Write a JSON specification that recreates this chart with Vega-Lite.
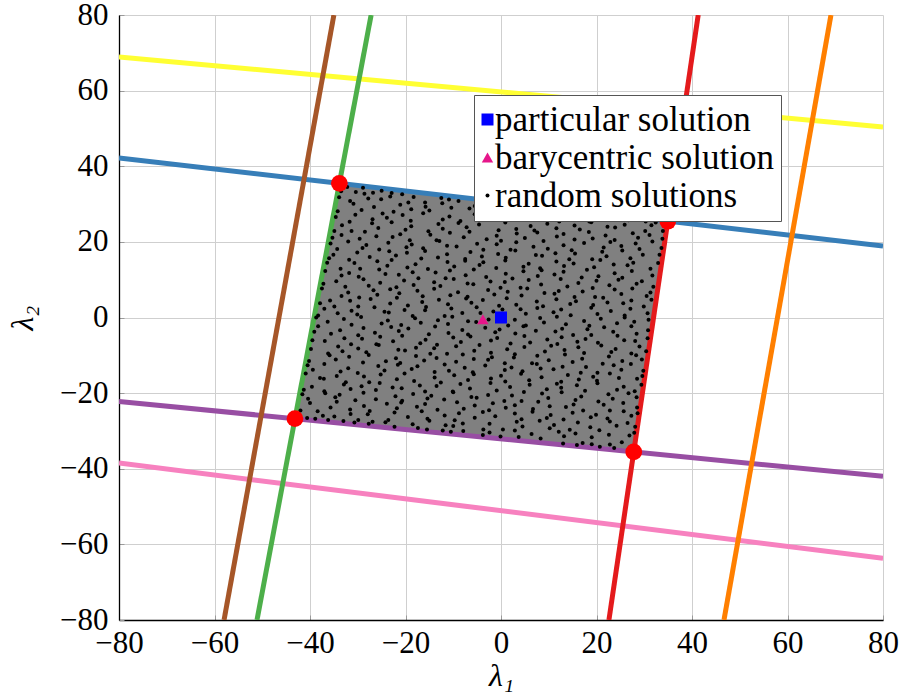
{
"$schema": "https://vega.github.io/schema/vega-lite/v6.json",
"width": 764, "height": 605,
"autosize": {"type": "none"},
"padding": {"left": 119, "top": 15, "right": 21, "bottom": 78},
"config": {
  "font": "Liberation Serif, serif",
  "view": {"stroke": null},
  "axis": {"gridColor": "#cfcfcf", "gridWidth": 1, "ticks": true, "tickSize": -5, "tickColor": "#9a9a9a", "tickWidth": 1, "domainColor": "#000000", "domainWidth": 1.3, "labelFont": "Liberation Serif, serif", "labelFontSize": 31, "labelColor": "#000000", "titleFont": "Liberation Serif, serif", "titleFontSize": 32, "titleFontStyle": "italic", "titleFontWeight": "normal", "titleColor": "#000000"},
  "legend": {"orient": "none", "legendX": 355, "legendY": 80, "fillColor": "#ffffff", "strokeColor": "#555555", "padding": 7, "rowPadding": 2, "labelFont": "Liberation Serif, serif", "labelFontSize": 35, "labelColor": "#000000", "labelOffset": -10, "symbolOffset": -11, "labelLimit": 400}
},
"layer": [
  {
    "data": {"values": [
      {"x": -43.15, "top": -26.76, "bottom": -26.76},
      {"x": -33.85, "top": 35.48, "bottom": -27.91},
      {"x": 27.8, "top": 26.5, "bottom": -35.54},
      {"x": 34.93, "top": 25.46, "bottom": 25.46}
    ]},
    "mark": {"type": "area", "color": "#808080", "opacity": 1},
    "encoding": {
      "x": {"field": "x", "type": "quantitative", "scale": {"domain": [-80, 80], "nice": false, "zero": false}, "axis": {"values": [-80, -60, -40, -20, 0, 20, 40, 60, 80], "title": "λ₁", "labelFont": "Liberation Serif, serif", "titleFont": "Liberation Serif, serif", "labelPadding": 13, "titlePadding": 2, "labelFlush": false}},
      "y": {"field": "top", "type": "quantitative", "scale": {"domain": [-80, 80], "nice": false, "zero": false}, "axis": {"values": [-80, -60, -40, -20, 0, 20, 40, 60, 80], "title": "λ₂", "labelFont": "Liberation Serif, serif", "titleFont": "Liberation Serif, serif", "labelPadding": 16, "titlePadding": 20, "labelFlush": false}},
      "y2": {"field": "bottom"}
    }
  },
  {
    "data": {"values": [
      {"id": "c1", "x": -80, "y": 68.9}, {"id": "c1", "x": 80, "y": 50.4},
      {"id": "c2", "x": -80, "y": 42.2}, {"id": "c2", "x": 80, "y": 18.9},
      {"id": "c3", "x": -80, "y": -22.2}, {"id": "c3", "x": 80, "y": -42.0},
      {"id": "c4", "x": -80, "y": -38.5}, {"id": "c4", "x": 80, "y": -63.7},
      {"id": "c5", "x": -58.0, "y": -80}, {"id": "c5", "x": -35.0, "y": 80},
      {"id": "c6", "x": -51.1, "y": -80}, {"id": "c6", "x": -27.2, "y": 80},
      {"id": "c7", "x": 22.6, "y": -80}, {"id": "c7", "x": 41.3, "y": 80},
      {"id": "c8", "x": 46.7, "y": -80}, {"id": "c8", "x": 69.1, "y": 80}
    ]},
    "mark": {"type": "line", "strokeWidth": 5, "clip": true},
    "encoding": {
      "x": {"field": "x", "type": "quantitative"},
      "y": {"field": "y", "type": "quantitative"},
      "order": {"field": "y", "type": "quantitative"},
      "stroke": {"field": "id", "type": "nominal", "legend": null, "scale": {"domain": ["c1","c2","c3","c4","c5","c6","c7","c8"], "range": ["#ffff33","#377eb8","#984ea3","#f781bf","#a65628","#4daf4a","#e41a1c","#ff7f00"]}}
    }
  },
  {
    "data": {"values": [
{"x":13.0,"y":-33.3,"k":"r"},{"x":15.9,"y":-33.7,"k":"r"},{"x":17.1,"y":-33.2,"k":"r"},{"x":20.7,"y":-34.2,"k":"r"},{"x":22.8,"y":-33.6,"k":"r"},{"x":23.7,"y":-34.5,"k":"r"},{"x":25.3,"y":-33.0,"k":"r"},{"x":26.6,"y":-35.1,"k":"r"},{"x":27.0,"y":-34.3,"k":"r"},{"x":19.0,"y":-33.5,"k":"r"},
{"x":-15.5,"y":-29.6,"k":"r"},{"x":-12.2,"y":-29.9,"k":"r"},{"x":-10.5,"y":-30.2,"k":"r"},{"x":-7.9,"y":-30.0,"k":"r"},{"x":-3.8,"y":-31.1,"k":"r"},{"x":-2.4,"y":-30.4,"k":"r"},{"x":-0.1,"y":-31.5,"k":"r"},{"x":2.9,"y":-29.9,"k":"r"},{"x":3.7,"y":-31.6,"k":"r"},{"x":6.4,"y":-30.8,"k":"r"},{"x":8.3,"y":-32.0,"k":"r"},{"x":12.1,"y":-30.2,"k":"r"},{"x":13.2,"y":-31.4,"k":"r"},{"x":15.6,"y":-30.7,"k":"r"},{"x":19.0,"y":-31.7,"k":"r"},{"x":20.6,"y":-29.8,"k":"r"},{"x":22.6,"y":-31.0,"k":"r"},{"x":26.9,"y":-31.2,"k":"r"},{"x":27.9,"y":-30.5,"k":"r"},
{"x":-33.0,"y":-27.4,"k":"r"},{"x":-30.7,"y":-27.8,"k":"r"},{"x":-27.7,"y":-28.1,"k":"r"},{"x":-26.9,"y":-27.6,"k":"r"},{"x":-24.2,"y":-27.7,"k":"r"},{"x":-22.3,"y":-28.9,"k":"r"},{"x":-18.5,"y":-28.2,"k":"r"},{"x":-17.4,"y":-29.2,"k":"r"},{"x":-15.0,"y":-27.3,"k":"r"},{"x":-11.6,"y":-28.5,"k":"r"},{"x":-10.0,"y":-28.7,"k":"r"},{"x":-8.0,"y":-28.0,"k":"r"},{"x":-3.7,"y":-29.6,"k":"r"},{"x":-2.4,"y":-28.1,"k":"r"},{"x":0.4,"y":-29.6,"k":"r"},{"x":3.3,"y":-27.6,"k":"r"},{"x":4.5,"y":-28.8,"k":"r"},{"x":8.1,"y":-27.3,"k":"r"},{"x":10.2,"y":-29.3,"k":"r"},{"x":11.1,"y":-28.4,"k":"r"},{"x":14.4,"y":-29.7,"k":"r"},{"x":16.1,"y":-27.8,"k":"r"},{"x":18.7,"y":-29.0,"k":"r"},{"x":22.8,"y":-27.5,"k":"r"},{"x":24.2,"y":-28.6,"k":"r"},{"x":26.5,"y":-27.9,"k":"r"},{"x":28.1,"y":-28.9,"k":"r"},
{"x":-42.2,"y":-26.2,"k":"r"},{"x":-38.4,"y":-24.8,"k":"r"},{"x":-37.3,"y":-26.0,"k":"r"},{"x":-34.9,"y":-26.2,"k":"r"},{"x":-31.5,"y":-25.5,"k":"r"},{"x":-29.9,"y":-27.1,"k":"r"},{"x":-27.9,"y":-25.6,"k":"r"},{"x":-23.6,"y":-27.1,"k":"r"},{"x":-22.3,"y":-25.1,"k":"r"},{"x":-19.5,"y":-26.3,"k":"r"},{"x":-16.6,"y":-24.8,"k":"r"},{"x":-15.4,"y":-26.8,"k":"r"},{"x":-11.8,"y":-25.9,"k":"r"},{"x":-9.7,"y":-27.2,"k":"r"},{"x":-8.8,"y":-25.3,"k":"r"},{"x":-5.5,"y":-26.5,"k":"r"},{"x":-3.8,"y":-25.0,"k":"r"},{"x":-1.2,"y":-26.1,"k":"r"},{"x":2.9,"y":-25.4,"k":"r"},{"x":4.3,"y":-26.9,"k":"r"},{"x":6.6,"y":-24.9,"k":"r"},{"x":9.6,"y":-26.6,"k":"r"},{"x":10.4,"y":-25.8,"k":"r"},{"x":13.1,"y":-27.0,"k":"r"},{"x":15.0,"y":-25.2,"k":"r"},{"x":18.8,"y":-26.4,"k":"r"},{"x":19.9,"y":-25.7,"k":"r"},{"x":22.3,"y":-26.7,"k":"r"},{"x":25.7,"y":-24.8,"k":"r"},{"x":27.3,"y":-26.0,"k":"r"},{"x":28.6,"y":-25.3,"k":"r"},{"x":-40.6,"y":-26.6,"k":"r"},{"x":-36.2,"y":-27.1,"k":"r"},{"x":-38.9,"y":-26.8,"k":"r"},
{"x":-42.0,"y":-24.6,"k":"r"},{"x":-40.0,"y":-22.6,"k":"r"},{"x":-35.7,"y":-23.8,"k":"r"},{"x":-34.4,"y":-22.3,"k":"r"},{"x":-31.6,"y":-24.3,"k":"r"},{"x":-28.7,"y":-23.4,"k":"r"},{"x":-27.5,"y":-24.7,"k":"r"},{"x":-23.9,"y":-22.8,"k":"r"},{"x":-21.8,"y":-24.0,"k":"r"},{"x":-20.9,"y":-22.5,"k":"r"},{"x":-17.6,"y":-23.6,"k":"r"},{"x":-15.9,"y":-22.9,"k":"r"},{"x":-13.3,"y":-24.4,"k":"r"},{"x":-9.2,"y":-22.4,"k":"r"},{"x":-7.8,"y":-24.1,"k":"r"},{"x":-5.5,"y":-23.3,"k":"r"},{"x":-2.5,"y":-24.5,"k":"r"},{"x":-1.7,"y":-22.7,"k":"r"},{"x":1.0,"y":-23.9,"k":"r"},{"x":2.9,"y":-23.2,"k":"r"},{"x":6.7,"y":-24.2,"k":"r"},{"x":7.8,"y":-22.3,"k":"r"},{"x":10.2,"y":-23.5,"k":"r"},{"x":13.6,"y":-23.7,"k":"r"},{"x":15.2,"y":-23.0,"k":"r"},{"x":17.2,"y":-24.6,"k":"r"},{"x":21.5,"y":-23.1,"k":"r"},{"x":22.8,"y":-24.6,"k":"r"},{"x":25.6,"y":-22.6,"k":"r"},{"x":28.5,"y":-23.8,"k":"r"},
{"x":-41.6,"y":-20.3,"k":"r"},{"x":-40.4,"y":-21.5,"k":"r"},{"x":-36.8,"y":-20.0,"k":"r"},{"x":-34.7,"y":-21.1,"k":"r"},{"x":-33.8,"y":-20.4,"k":"r"},{"x":-30.5,"y":-21.9,"k":"r"},{"x":-28.8,"y":-19.9,"k":"r"},{"x":-26.2,"y":-21.6,"k":"r"},{"x":-22.1,"y":-20.8,"k":"r"},{"x":-20.7,"y":-22.0,"k":"r"},{"x":-18.4,"y":-20.2,"k":"r"},{"x":-15.4,"y":-21.4,"k":"r"},{"x":-14.6,"y":-20.7,"k":"r"},{"x":-11.9,"y":-21.7,"k":"r"},{"x":-10.0,"y":-19.8,"k":"r"},{"x":-6.2,"y":-21.0,"k":"r"},{"x":-5.1,"y":-21.2,"k":"r"},{"x":-2.7,"y":-20.5,"k":"r"},{"x":0.7,"y":-22.1,"k":"r"},{"x":2.3,"y":-20.6,"k":"r"},{"x":4.3,"y":-22.1,"k":"r"},{"x":8.6,"y":-20.1,"k":"r"},{"x":9.9,"y":-21.3,"k":"r"},{"x":12.7,"y":-19.8,"k":"r"},{"x":15.6,"y":-21.8,"k":"r"},{"x":16.8,"y":-20.9,"k":"r"},{"x":20.4,"y":-22.2,"k":"r"},{"x":22.5,"y":-20.3,"k":"r"},{"x":23.4,"y":-21.5,"k":"r"},{"x":26.7,"y":-20.0,"k":"r"},{"x":28.4,"y":-21.1,"k":"r"},
{"x":-41.3,"y":-19.1,"k":"r"},{"x":-39.6,"y":-18.3,"k":"r"},{"x":-37.0,"y":-19.5,"k":"r"},{"x":-32.9,"y":-17.7,"k":"r"},{"x":-31.5,"y":-18.9,"k":"r"},{"x":-29.2,"y":-18.2,"k":"r"},{"x":-26.2,"y":-19.2,"k":"r"},{"x":-25.4,"y":-17.3,"k":"r"},{"x":-22.7,"y":-18.5,"k":"r"},{"x":-20.8,"y":-18.7,"k":"r"},{"x":-17.0,"y":-18.0,"k":"r"},{"x":-15.9,"y":-19.6,"k":"r"},{"x":-13.5,"y":-18.1,"k":"r"},{"x":-10.1,"y":-19.6,"k":"r"},{"x":-8.5,"y":-17.6,"k":"r"},{"x":-6.5,"y":-18.8,"k":"r"},{"x":-2.2,"y":-17.3,"k":"r"},{"x":-0.9,"y":-19.3,"k":"r"},{"x":1.9,"y":-18.4,"k":"r"},{"x":4.8,"y":-19.7,"k":"r"},{"x":6.0,"y":-17.8,"k":"r"},{"x":9.6,"y":-19.0,"k":"r"},{"x":11.7,"y":-17.5,"k":"r"},{"x":12.6,"y":-18.6,"k":"r"},{"x":15.9,"y":-17.9,"k":"r"},{"x":17.6,"y":-19.4,"k":"r"},{"x":20.2,"y":-17.4,"k":"r"},{"x":24.3,"y":-19.1,"k":"r"},{"x":25.7,"y":-18.3,"k":"r"},{"x":28.0,"y":-19.5,"k":"r"},{"x":29.4,"y":-17.8,"k":"r"},
{"x":-40.9,"y":-14.8,"k":"r"},{"x":-37.9,"y":-16.0,"k":"r"},{"x":-37.1,"y":-16.2,"k":"r"},{"x":-34.4,"y":-15.5,"k":"r"},{"x":-32.5,"y":-17.1,"k":"r"},{"x":-28.7,"y":-15.6,"k":"r"},{"x":-27.6,"y":-17.1,"k":"r"},{"x":-25.2,"y":-15.1,"k":"r"},{"x":-21.8,"y":-16.3,"k":"r"},{"x":-20.2,"y":-14.8,"k":"r"},{"x":-18.2,"y":-16.8,"k":"r"},{"x":-13.9,"y":-15.9,"k":"r"},{"x":-12.6,"y":-17.2,"k":"r"},{"x":-9.8,"y":-15.3,"k":"r"},{"x":-6.9,"y":-16.5,"k":"r"},{"x":-5.7,"y":-15.0,"k":"r"},{"x":-2.1,"y":-16.1,"k":"r"},{"x":0.0,"y":-15.4,"k":"r"},{"x":0.9,"y":-16.9,"k":"r"},{"x":4.2,"y":-14.9,"k":"r"},{"x":5.9,"y":-16.6,"k":"r"},{"x":8.5,"y":-15.8,"k":"r"},{"x":12.6,"y":-17.0,"k":"r"},{"x":14.0,"y":-15.2,"k":"r"},{"x":16.3,"y":-16.4,"k":"r"},{"x":19.3,"y":-15.7,"k":"r"},{"x":20.1,"y":-16.7,"k":"r"},{"x":22.8,"y":-14.8,"k":"r"},{"x":24.7,"y":-16.0,"k":"r"},{"x":28.5,"y":-16.2,"k":"r"},{"x":29.6,"y":-15.5,"k":"r"},
{"x":-40.5,"y":-12.6,"k":"r"},{"x":-39.4,"y":-13.8,"k":"r"},{"x":-37.0,"y":-12.3,"k":"r"},{"x":-33.6,"y":-14.3,"k":"r"},{"x":-32.0,"y":-13.4,"k":"r"},{"x":-30.0,"y":-14.7,"k":"r"},{"x":-25.7,"y":-12.8,"k":"r"},{"x":-24.4,"y":-14.0,"k":"r"},{"x":-21.6,"y":-12.5,"k":"r"},{"x":-18.7,"y":-13.6,"k":"r"},{"x":-17.5,"y":-12.9,"k":"r"},{"x":-13.9,"y":-14.4,"k":"r"},{"x":-11.8,"y":-12.4,"k":"r"},{"x":-10.9,"y":-14.1,"k":"r"},{"x":-7.6,"y":-13.3,"k":"r"},{"x":-5.9,"y":-14.5,"k":"r"},{"x":-3.3,"y":-12.7,"k":"r"},{"x":0.8,"y":-13.9,"k":"r"},{"x":2.2,"y":-13.2,"k":"r"},{"x":4.5,"y":-14.2,"k":"r"},{"x":7.5,"y":-12.3,"k":"r"},{"x":8.3,"y":-13.5,"k":"r"},{"x":11.0,"y":-13.7,"k":"r"},{"x":12.9,"y":-13.0,"k":"r"},{"x":16.7,"y":-14.6,"k":"r"},{"x":17.8,"y":-13.1,"k":"r"},{"x":20.2,"y":-14.6,"k":"r"},{"x":23.6,"y":-12.6,"k":"r"},{"x":25.2,"y":-13.8,"k":"r"},{"x":27.2,"y":-12.3,"k":"r"},{"x":29.8,"y":-14.1,"k":"r"},
{"x":-40.2,"y":-11.5,"k":"r"},{"x":-35.9,"y":-10.0,"k":"r"},{"x":-34.6,"y":-11.1,"k":"r"},{"x":-31.8,"y":-10.4,"k":"r"},{"x":-28.9,"y":-11.9,"k":"r"},{"x":-27.7,"y":-9.9,"k":"r"},{"x":-24.1,"y":-11.6,"k":"r"},{"x":-22.0,"y":-10.8,"k":"r"},{"x":-21.1,"y":-12.0,"k":"r"},{"x":-17.8,"y":-10.2,"k":"r"},{"x":-16.1,"y":-11.4,"k":"r"},{"x":-13.5,"y":-10.7,"k":"r"},{"x":-9.4,"y":-11.7,"k":"r"},{"x":-8.0,"y":-9.8,"k":"r"},{"x":-5.7,"y":-11.0,"k":"r"},{"x":-2.7,"y":-11.2,"k":"r"},{"x":-1.9,"y":-10.5,"k":"r"},{"x":0.8,"y":-12.1,"k":"r"},{"x":2.7,"y":-10.6,"k":"r"},{"x":6.5,"y":-12.1,"k":"r"},{"x":7.6,"y":-10.1,"k":"r"},{"x":10.0,"y":-11.3,"k":"r"},{"x":13.4,"y":-9.8,"k":"r"},{"x":15.0,"y":-11.8,"k":"r"},{"x":17.0,"y":-10.9,"k":"r"},{"x":21.3,"y":-12.2,"k":"r"},{"x":22.6,"y":-10.3,"k":"r"},{"x":25.4,"y":-11.5,"k":"r"},{"x":28.3,"y":-10.0,"k":"r"},{"x":29.5,"y":-11.1,"k":"r"},
{"x":-39.8,"y":-8.3,"k":"r"},{"x":-36.2,"y":-9.5,"k":"r"},{"x":-34.1,"y":-7.7,"k":"r"},{"x":-33.2,"y":-8.9,"k":"r"},{"x":-29.9,"y":-8.2,"k":"r"},{"x":-28.2,"y":-9.2,"k":"r"},{"x":-25.6,"y":-7.3,"k":"r"},{"x":-21.5,"y":-8.5,"k":"r"},{"x":-20.1,"y":-8.7,"k":"r"},{"x":-17.8,"y":-8.0,"k":"r"},{"x":-14.8,"y":-9.6,"k":"r"},{"x":-14.0,"y":-8.1,"k":"r"},{"x":-11.3,"y":-9.6,"k":"r"},{"x":-9.4,"y":-7.6,"k":"r"},{"x":-5.6,"y":-8.8,"k":"r"},{"x":-4.5,"y":-7.3,"k":"r"},{"x":-2.1,"y":-9.3,"k":"r"},{"x":1.3,"y":-8.4,"k":"r"},{"x":2.9,"y":-9.7,"k":"r"},{"x":4.9,"y":-7.8,"k":"r"},{"x":9.2,"y":-9.0,"k":"r"},{"x":10.5,"y":-7.5,"k":"r"},{"x":13.3,"y":-8.6,"k":"r"},{"x":16.2,"y":-7.9,"k":"r"},{"x":17.4,"y":-9.4,"k":"r"},{"x":21.0,"y":-7.4,"k":"r"},{"x":23.1,"y":-9.1,"k":"r"},{"x":24.0,"y":-8.3,"k":"r"},{"x":27.3,"y":-9.5,"k":"r"},{"x":29.0,"y":-7.7,"k":"r"},{"x":30.4,"y":-8.9,"k":"r"},
{"x":-39.5,"y":-6.0,"k":"r"},{"x":-36.9,"y":-6.2,"k":"r"},{"x":-32.8,"y":-5.5,"k":"r"},{"x":-31.4,"y":-7.1,"k":"r"},{"x":-29.1,"y":-5.6,"k":"r"},{"x":-26.1,"y":-7.1,"k":"r"},{"x":-25.3,"y":-5.1,"k":"r"},{"x":-22.6,"y":-6.3,"k":"r"},{"x":-20.7,"y":-4.8,"k":"r"},{"x":-16.9,"y":-6.8,"k":"r"},{"x":-15.8,"y":-5.9,"k":"r"},{"x":-13.4,"y":-7.2,"k":"r"},{"x":-10.0,"y":-5.3,"k":"r"},{"x":-8.4,"y":-6.5,"k":"r"},{"x":-6.4,"y":-5.0,"k":"r"},{"x":-2.1,"y":-6.1,"k":"r"},{"x":-0.8,"y":-5.4,"k":"r"},{"x":2.0,"y":-6.9,"k":"r"},{"x":4.9,"y":-4.9,"k":"r"},{"x":6.1,"y":-6.6,"k":"r"},{"x":9.7,"y":-5.8,"k":"r"},{"x":11.8,"y":-7.0,"k":"r"},{"x":12.7,"y":-5.2,"k":"r"},{"x":16.0,"y":-6.4,"k":"r"},{"x":17.7,"y":-5.7,"k":"r"},{"x":20.3,"y":-6.7,"k":"r"},{"x":24.4,"y":-4.8,"k":"r"},{"x":25.8,"y":-6.0,"k":"r"},{"x":28.1,"y":-6.2,"k":"r"},{"x":30.7,"y":-5.5,"k":"r"},
{"x":-39.1,"y":-3.8,"k":"r"},{"x":-38.3,"y":-2.3,"k":"r"},{"x":-35.6,"y":-4.3,"k":"r"},{"x":-33.7,"y":-3.4,"k":"r"},{"x":-29.9,"y":-4.7,"k":"r"},{"x":-28.8,"y":-2.8,"k":"r"},{"x":-26.4,"y":-4.0,"k":"r"},{"x":-23.0,"y":-2.5,"k":"r"},{"x":-21.4,"y":-3.6,"k":"r"},{"x":-19.4,"y":-2.9,"k":"r"},{"x":-15.1,"y":-4.4,"k":"r"},{"x":-13.8,"y":-2.4,"k":"r"},{"x":-11.0,"y":-4.1,"k":"r"},{"x":-8.1,"y":-3.3,"k":"r"},{"x":-6.9,"y":-4.5,"k":"r"},{"x":-3.3,"y":-2.7,"k":"r"},{"x":-1.2,"y":-3.9,"k":"r"},{"x":-0.3,"y":-3.2,"k":"r"},{"x":3.0,"y":-4.2,"k":"r"},{"x":4.7,"y":-2.3,"k":"r"},{"x":7.3,"y":-3.5,"k":"r"},{"x":11.4,"y":-3.7,"k":"r"},{"x":12.8,"y":-3.0,"k":"r"},{"x":15.1,"y":-4.6,"k":"r"},{"x":18.1,"y":-3.1,"k":"r"},{"x":18.9,"y":-4.6,"k":"r"},{"x":21.6,"y":-2.6,"k":"r"},{"x":23.5,"y":-3.8,"k":"r"},{"x":27.3,"y":-2.3,"k":"r"},{"x":28.4,"y":-4.3,"k":"r"},{"x":30.8,"y":-3.4,"k":"r"},
{"x":-38.7,"y":0.0,"k":"r"},{"x":-36.3,"y":-1.1,"k":"r"},{"x":-32.9,"y":-0.4,"k":"r"},{"x":-31.3,"y":-1.9,"k":"r"},{"x":-29.3,"y":0.1,"k":"r"},{"x":-25.0,"y":-1.6,"k":"r"},{"x":-23.7,"y":-0.8,"k":"r"},{"x":-20.9,"y":-2.0,"k":"r"},{"x":-18.0,"y":-0.2,"k":"r"},{"x":-16.8,"y":-1.4,"k":"r"},{"x":-13.2,"y":-0.7,"k":"r"},{"x":-11.1,"y":-1.7,"k":"r"},{"x":-10.2,"y":0.2,"k":"r"},{"x":-6.9,"y":-1.0,"k":"r"},{"x":-5.2,"y":-1.2,"k":"r"},{"x":-2.6,"y":-0.5,"k":"r"},{"x":1.5,"y":-2.1,"k":"r"},{"x":2.9,"y":-0.6,"k":"r"},{"x":5.2,"y":-2.1,"k":"r"},{"x":8.2,"y":-0.1,"k":"r"},{"x":9.0,"y":-1.3,"k":"r"},{"x":11.7,"y":0.2,"k":"r"},{"x":13.6,"y":-1.8,"k":"r"},{"x":17.4,"y":-0.9,"k":"r"},{"x":18.5,"y":-2.2,"k":"r"},{"x":20.9,"y":-0.3,"k":"r"},{"x":24.3,"y":-1.5,"k":"r"},{"x":25.9,"y":0.0,"k":"r"},{"x":27.9,"y":-1.1,"k":"r"},{"x":30.9,"y":-0.6,"k":"r"},
{"x":-38.3,"y":0.5,"k":"r"},{"x":-37.0,"y":2.3,"k":"r"},{"x":-34.2,"y":1.1,"k":"r"},{"x":-31.3,"y":1.8,"k":"r"},{"x":-30.1,"y":0.8,"k":"r"},{"x":-26.5,"y":2.7,"k":"r"},{"x":-24.4,"y":1.5,"k":"r"},{"x":-23.5,"y":1.3,"k":"r"},{"x":-20.2,"y":2.0,"k":"r"},{"x":-18.5,"y":0.4,"k":"r"},{"x":-15.9,"y":1.9,"k":"r"},{"x":-11.8,"y":0.4,"k":"r"},{"x":-10.4,"y":2.4,"k":"r"},{"x":-8.1,"y":1.2,"k":"r"},{"x":-5.1,"y":2.7,"k":"r"},{"x":-4.3,"y":1.2,"k":"r"},{"x":-1.6,"y":1.6,"k":"r"},{"x":0.3,"y":2.1,"k":"r"},{"x":4.1,"y":2.2,"k":"r"},{"x":5.2,"y":1.0,"k":"r"},{"x":7.6,"y":2.5,"k":"r"},{"x":11.0,"y":1.4,"k":"r"},{"x":12.6,"y":2.1,"k":"r"},{"x":14.6,"y":0.6,"k":"r"},{"x":18.9,"y":2.6,"k":"r"},{"x":20.2,"y":0.9,"k":"r"},{"x":23.0,"y":1.7,"k":"r"},{"x":25.9,"y":0.5,"k":"r"},{"x":27.1,"y":2.3,"k":"r"},{"x":30.7,"y":1.1,"k":"r"},
{"x":-37.9,"y":3.8,"k":"r"},{"x":-35.8,"y":4.5,"k":"r"},{"x":-34.9,"y":2.9,"k":"r"},{"x":-31.6,"y":4.4,"k":"r"},{"x":-29.9,"y":2.9,"k":"r"},{"x":-27.3,"y":4.9,"k":"r"},{"x":-23.2,"y":3.7,"k":"r"},{"x":-21.8,"y":5.2,"k":"r"},{"x":-19.5,"y":3.2,"k":"r"},{"x":-16.5,"y":4.1,"k":"r"},{"x":-15.7,"y":2.8,"k":"r"},{"x":-13.0,"y":4.7,"k":"r"},{"x":-11.1,"y":3.5,"k":"r"},{"x":-7.3,"y":5.0,"k":"r"},{"x":-6.2,"y":3.9,"k":"r"},{"x":-3.8,"y":4.6,"k":"r"},{"x":-0.4,"y":3.1,"k":"r"},{"x":1.2,"y":5.1,"k":"r"},{"x":3.2,"y":3.4,"k":"r"},{"x":7.5,"y":4.2,"k":"r"},{"x":8.8,"y":3.0,"k":"r"},{"x":11.6,"y":4.8,"k":"r"},{"x":14.5,"y":3.6,"k":"r"},{"x":15.7,"y":4.3,"k":"r"},{"x":19.3,"y":3.3,"k":"r"},{"x":21.4,"y":5.2,"k":"r"},{"x":22.3,"y":4.0,"k":"r"},{"x":25.6,"y":3.8,"k":"r"},{"x":27.3,"y":4.5,"k":"r"},{"x":29.9,"y":2.9,"k":"r"},{"x":31.5,"y":4.7,"k":"r"},
{"x":-37.5,"y":7.7,"k":"r"},{"x":-33.4,"y":5.7,"k":"r"},{"x":-32.0,"y":6.6,"k":"r"},{"x":-29.7,"y":5.3,"k":"r"},{"x":-26.7,"y":7.2,"k":"r"},{"x":-25.9,"y":6.0,"k":"r"},{"x":-23.2,"y":7.5,"k":"r"},{"x":-21.3,"y":6.4,"k":"r"},{"x":-17.5,"y":7.1,"k":"r"},{"x":-16.4,"y":5.6,"k":"r"},{"x":-14.0,"y":7.6,"k":"r"},{"x":-10.6,"y":5.9,"k":"r"},{"x":-9.0,"y":6.7,"k":"r"},{"x":-7.0,"y":5.5,"k":"r"},{"x":-2.7,"y":7.3,"k":"r"},{"x":-1.4,"y":6.1,"k":"r"},{"x":1.4,"y":6.8,"k":"r"},{"x":4.3,"y":5.8,"k":"r"},{"x":5.5,"y":7.7,"k":"r"},{"x":9.1,"y":6.5,"k":"r"},{"x":11.2,"y":6.3,"k":"r"},{"x":12.1,"y":7.0,"k":"r"},{"x":15.4,"y":5.4,"k":"r"},{"x":17.1,"y":6.9,"k":"r"},{"x":19.7,"y":5.4,"k":"r"},{"x":23.8,"y":7.4,"k":"r"},{"x":25.2,"y":6.2,"k":"r"},{"x":27.5,"y":7.7,"k":"r"},{"x":30.5,"y":5.7,"k":"r"},{"x":31.3,"y":6.6,"k":"r"},
{"x":-37.2,"y":8.9,"k":"r"},{"x":-34.5,"y":9.6,"k":"r"},{"x":-32.6,"y":8.1,"k":"r"},{"x":-28.8,"y":10.1,"k":"r"},{"x":-27.7,"y":8.4,"k":"r"},{"x":-25.3,"y":9.2,"k":"r"},{"x":-21.9,"y":8.0,"k":"r"},{"x":-20.3,"y":9.8,"k":"r"},{"x":-18.3,"y":8.6,"k":"r"},{"x":-14.0,"y":9.3,"k":"r"},{"x":-12.7,"y":8.3,"k":"r"},{"x":-9.9,"y":10.2,"k":"r"},{"x":-7.0,"y":9.0,"k":"r"},{"x":-5.8,"y":8.8,"k":"r"},{"x":-2.2,"y":9.5,"k":"r"},{"x":-0.1,"y":7.9,"k":"r"},{"x":0.8,"y":9.4,"k":"r"},{"x":4.1,"y":7.9,"k":"r"},{"x":5.8,"y":9.9,"k":"r"},{"x":8.4,"y":8.7,"k":"r"},{"x":12.5,"y":10.2,"k":"r"},{"x":13.9,"y":8.2,"k":"r"},{"x":16.2,"y":9.1,"k":"r"},{"x":19.2,"y":7.8,"k":"r"},{"x":20.0,"y":9.7,"k":"r"},{"x":22.7,"y":8.5,"k":"r"},{"x":24.6,"y":10.0,"k":"r"},{"x":28.4,"y":8.9,"k":"r"},{"x":29.5,"y":9.6,"k":"r"},{"x":31.9,"y":8.1,"k":"r"},
{"x":-36.8,"y":12.3,"k":"r"},{"x":-33.4,"y":11.1,"k":"r"},{"x":-31.8,"y":11.8,"k":"r"},{"x":-29.8,"y":10.8,"k":"r"},{"x":-25.5,"y":12.7,"k":"r"},{"x":-24.2,"y":11.5,"k":"r"},{"x":-21.4,"y":11.3,"k":"r"},{"x":-18.5,"y":12.0,"k":"r"},{"x":-17.3,"y":10.4,"k":"r"},{"x":-13.7,"y":11.9,"k":"r"},{"x":-11.6,"y":10.4,"k":"r"},{"x":-10.7,"y":12.4,"k":"r"},{"x":-7.4,"y":11.2,"k":"r"},{"x":-5.7,"y":12.7,"k":"r"},{"x":-3.1,"y":10.7,"k":"r"},{"x":1.0,"y":11.6,"k":"r"},{"x":2.4,"y":10.3,"k":"r"},{"x":4.7,"y":12.2,"k":"r"},{"x":7.7,"y":11.0,"k":"r"},{"x":8.5,"y":12.5,"k":"r"},{"x":11.2,"y":11.4,"k":"r"},{"x":13.1,"y":12.1,"k":"r"},{"x":16.9,"y":10.6,"k":"r"},{"x":18.0,"y":12.6,"k":"r"},{"x":20.4,"y":10.9,"k":"r"},{"x":23.8,"y":11.7,"k":"r"},{"x":25.4,"y":10.5,"k":"r"},{"x":27.4,"y":12.3,"k":"r"},{"x":31.7,"y":11.1,"k":"r"},
{"x":-36.4,"y":14.5,"k":"r"},{"x":-33.6,"y":12.9,"k":"r"},{"x":-30.7,"y":14.4,"k":"r"},{"x":-29.5,"y":12.9,"k":"r"},{"x":-25.9,"y":14.9,"k":"r"},{"x":-23.8,"y":13.7,"k":"r"},{"x":-22.9,"y":15.2,"k":"r"},{"x":-19.6,"y":13.2,"k":"r"},{"x":-17.9,"y":14.1,"k":"r"},{"x":-15.3,"y":12.8,"k":"r"},{"x":-11.2,"y":14.7,"k":"r"},{"x":-9.8,"y":13.5,"k":"r"},{"x":-7.5,"y":15.0,"k":"r"},{"x":-4.5,"y":13.9,"k":"r"},{"x":-3.7,"y":14.6,"k":"r"},{"x":-1.0,"y":13.1,"k":"r"},{"x":0.9,"y":15.1,"k":"r"},{"x":4.7,"y":13.4,"k":"r"},{"x":5.8,"y":14.2,"k":"r"},{"x":8.2,"y":13.0,"k":"r"},{"x":11.6,"y":14.8,"k":"r"},{"x":13.2,"y":13.6,"k":"r"},{"x":15.2,"y":14.3,"k":"r"},{"x":19.5,"y":13.3,"k":"r"},{"x":20.8,"y":15.2,"k":"r"},{"x":23.6,"y":14.0,"k":"r"},{"x":26.5,"y":13.8,"k":"r"},{"x":27.7,"y":14.5,"k":"r"},{"x":31.3,"y":12.9,"k":"r"},{"x":32.9,"y":14.4,"k":"r"},
{"x":-36.0,"y":15.7,"k":"r"},{"x":-35.1,"y":16.6,"k":"r"},{"x":-31.8,"y":15.3,"k":"r"},{"x":-30.1,"y":17.2,"k":"r"},{"x":-27.5,"y":16.0,"k":"r"},{"x":-23.4,"y":17.5,"k":"r"},{"x":-22.0,"y":16.4,"k":"r"},{"x":-19.7,"y":17.1,"k":"r"},{"x":-16.7,"y":15.6,"k":"r"},{"x":-15.9,"y":17.6,"k":"r"},{"x":-13.2,"y":15.9,"k":"r"},{"x":-11.3,"y":16.7,"k":"r"},{"x":-7.5,"y":15.5,"k":"r"},{"x":-6.4,"y":17.3,"k":"r"},{"x":-4.0,"y":16.1,"k":"r"},{"x":-0.6,"y":16.8,"k":"r"},{"x":1.0,"y":15.8,"k":"r"},{"x":3.0,"y":17.7,"k":"r"},{"x":7.3,"y":16.5,"k":"r"},{"x":8.6,"y":16.3,"k":"r"},{"x":11.4,"y":17.0,"k":"r"},{"x":14.3,"y":15.4,"k":"r"},{"x":15.5,"y":16.9,"k":"r"},{"x":19.1,"y":15.4,"k":"r"},{"x":21.2,"y":17.4,"k":"r"},{"x":22.1,"y":16.2,"k":"r"},{"x":25.4,"y":17.7,"k":"r"},{"x":27.1,"y":15.7,"k":"r"},{"x":29.7,"y":16.6,"k":"r"},{"x":33.2,"y":16.6,"k":"r"},
{"x":-35.7,"y":19.6,"k":"r"},{"x":-34.3,"y":18.1,"k":"r"},{"x":-32.0,"y":20.1,"k":"r"},{"x":-29.0,"y":18.4,"k":"r"},{"x":-28.2,"y":19.2,"k":"r"},{"x":-25.5,"y":18.0,"k":"r"},{"x":-23.6,"y":19.8,"k":"r"},{"x":-19.8,"y":18.6,"k":"r"},{"x":-18.7,"y":19.3,"k":"r"},{"x":-16.3,"y":18.3,"k":"r"},{"x":-12.9,"y":20.2,"k":"r"},{"x":-11.3,"y":19.0,"k":"r"},{"x":-9.3,"y":18.8,"k":"r"},{"x":-5.0,"y":19.5,"k":"r"},{"x":-3.7,"y":17.9,"k":"r"},{"x":-0.9,"y":19.4,"k":"r"},{"x":2.0,"y":17.9,"k":"r"},{"x":3.2,"y":19.9,"k":"r"},{"x":6.8,"y":18.7,"k":"r"},{"x":8.9,"y":20.2,"k":"r"},{"x":9.8,"y":18.2,"k":"r"},{"x":13.1,"y":19.1,"k":"r"},{"x":14.8,"y":17.8,"k":"r"},{"x":17.4,"y":19.7,"k":"r"},{"x":21.5,"y":18.5,"k":"r"},{"x":22.9,"y":20.0,"k":"r"},{"x":25.2,"y":18.9,"k":"r"},{"x":28.2,"y":19.6,"k":"r"},{"x":29.0,"y":18.1,"k":"r"},{"x":31.7,"y":20.1,"k":"r"},{"x":33.6,"y":18.4,"k":"r"},
{"x":-35.3,"y":21.1,"k":"r"},{"x":-33.4,"y":21.8,"k":"r"},{"x":-29.6,"y":20.8,"k":"r"},{"x":-28.5,"y":22.7,"k":"r"},{"x":-26.1,"y":21.5,"k":"r"},{"x":-22.7,"y":21.3,"k":"r"},{"x":-21.1,"y":22.0,"k":"r"},{"x":-19.1,"y":20.4,"k":"r"},{"x":-14.8,"y":21.9,"k":"r"},{"x":-13.5,"y":20.4,"k":"r"},{"x":-10.7,"y":22.4,"k":"r"},{"x":-7.8,"y":21.2,"k":"r"},{"x":-6.6,"y":22.7,"k":"r"},{"x":-3.0,"y":20.7,"k":"r"},{"x":-0.9,"y":21.6,"k":"r"},{"x":0.0,"y":20.3,"k":"r"},{"x":3.3,"y":22.2,"k":"r"},{"x":5.0,"y":21.0,"k":"r"},{"x":7.6,"y":22.5,"k":"r"},{"x":11.7,"y":21.4,"k":"r"},{"x":13.1,"y":22.1,"k":"r"},{"x":15.4,"y":20.6,"k":"r"},{"x":18.4,"y":22.6,"k":"r"},{"x":19.2,"y":20.9,"k":"r"},{"x":21.9,"y":21.7,"k":"r"},{"x":23.8,"y":20.5,"k":"r"},{"x":27.6,"y":22.3,"k":"r"},{"x":28.7,"y":21.1,"k":"r"},{"x":31.1,"y":21.8,"k":"r"},{"x":33.8,"y":20.8,"k":"r"},
{"x":-34.9,"y":22.9,"k":"r"},{"x":-33.3,"y":24.4,"k":"r"},{"x":-31.3,"y":22.9,"k":"r"},{"x":-27.0,"y":24.9,"k":"r"},{"x":-25.7,"y":23.7,"k":"r"},{"x":-22.9,"y":25.2,"k":"r"},{"x":-20.0,"y":23.2,"k":"r"},{"x":-18.8,"y":24.1,"k":"r"},{"x":-15.2,"y":22.8,"k":"r"},{"x":-13.1,"y":24.7,"k":"r"},{"x":-12.2,"y":23.5,"k":"r"},{"x":-8.9,"y":25.0,"k":"r"},{"x":-7.2,"y":23.9,"k":"r"},{"x":-4.6,"y":24.6,"k":"r"},{"x":-0.5,"y":23.1,"k":"r"},{"x":0.9,"y":25.1,"k":"r"},{"x":3.2,"y":23.4,"k":"r"},{"x":6.2,"y":24.2,"k":"r"},{"x":7.0,"y":23.0,"k":"r"},{"x":9.7,"y":24.8,"k":"r"},{"x":11.6,"y":23.6,"k":"r"},{"x":15.4,"y":24.3,"k":"r"},{"x":16.5,"y":23.3,"k":"r"},{"x":18.9,"y":25.2,"k":"r"},{"x":22.3,"y":24.0,"k":"r"},{"x":23.9,"y":23.8,"k":"r"},{"x":25.9,"y":24.5,"k":"r"},{"x":30.2,"y":22.9,"k":"r"},{"x":31.5,"y":24.4,"k":"r"},{"x":33.9,"y":22.9,"k":"r"},
{"x":-34.6,"y":26.6,"k":"r"},{"x":-31.7,"y":25.3,"k":"r"},{"x":-30.5,"y":27.2,"k":"r"},{"x":-26.9,"y":26.0,"k":"r"},{"x":-24.8,"y":27.5,"k":"r"},{"x":-23.9,"y":26.4,"k":"r"},{"x":-20.6,"y":27.1,"k":"r"},{"x":-18.9,"y":25.6,"k":"r"},{"x":-16.3,"y":27.6,"k":"r"},{"x":-12.2,"y":25.9,"k":"r"},{"x":-10.8,"y":26.7,"k":"r"},{"x":-8.5,"y":25.5,"k":"r"},{"x":-5.5,"y":27.3,"k":"r"},{"x":-4.7,"y":26.1,"k":"r"},{"x":-2.0,"y":26.8,"k":"r"},{"x":-0.1,"y":25.8,"k":"r"},{"x":3.7,"y":27.7,"k":"r"},{"x":4.8,"y":26.5,"k":"r"},{"x":7.2,"y":26.3,"k":"r"},{"x":10.6,"y":27.0,"k":"r"},{"x":12.2,"y":25.4,"k":"r"},{"x":14.2,"y":26.9,"k":"r"},{"x":18.5,"y":25.4,"k":"r"},{"x":19.8,"y":26.9,"k":"r"},{"x":22.6,"y":26.2,"k":"r"},{"x":25.5,"y":26.2,"k":"r"},{"x":26.7,"y":25.7,"k":"r"},{"x":30.3,"y":25.4,"k":"r"},{"x":32.4,"y":25.1,"k":"r"},
{"x":-34.2,"y":28.1,"k":"r"},{"x":-30.9,"y":30.1,"k":"r"},{"x":-29.2,"y":28.4,"k":"r"},{"x":-26.6,"y":29.2,"k":"r"},{"x":-22.5,"y":28.0,"k":"r"},{"x":-21.1,"y":29.8,"k":"r"},{"x":-18.8,"y":28.6,"k":"r"},{"x":-15.8,"y":29.3,"k":"r"},{"x":-15.0,"y":28.3,"k":"r"},{"x":-12.3,"y":30.2,"k":"r"},{"x":-10.4,"y":29.0,"k":"r"},{"x":-6.6,"y":28.8,"k":"r"},{"x":-5.5,"y":29.5,"k":"r"},{"x":-3.1,"y":27.9,"k":"r"},{"x":0.3,"y":29.4,"k":"r"},{"x":1.9,"y":27.9,"k":"r"},{"x":3.9,"y":29.0,"k":"r"},{"x":8.2,"y":28.7,"k":"r"},{"x":9.5,"y":28.4,"k":"r"},{"x":12.3,"y":28.2,"k":"r"},{"x":15.2,"y":27.6,"k":"r"},{"x":16.4,"y":27.3,"k":"r"},{"x":20.0,"y":27.0,"k":"r"},
{"x":-33.9,"y":31.8,"k":"r"},{"x":-31.6,"y":30.8,"k":"r"},{"x":-28.6,"y":32.7,"k":"r"},{"x":-27.8,"y":31.5,"k":"r"},{"x":-25.1,"y":31.3,"k":"r"},{"x":-23.2,"y":32.0,"k":"r"},{"x":-19.4,"y":30.4,"k":"r"},{"x":-18.3,"y":31.9,"k":"r"},{"x":-15.9,"y":30.4,"k":"r"},{"x":-12.5,"y":31.6,"k":"r"},{"x":-10.9,"y":31.2,"k":"r"},{"x":-8.9,"y":30.8,"k":"r"},{"x":-4.6,"y":30.7,"k":"r"},{"x":-3.3,"y":30.2,"k":"r"},{"x":-0.5,"y":30.3,"k":"r"},
{"x":-33.5,"y":33.4,"k":"r"},{"x":-32.2,"y":34.5,"k":"r"},{"x":-30.4,"y":33.2,"k":"r"},{"x":-28.9,"y":34.3,"k":"r"},{"x":-26.8,"y":33.0,"k":"r"},{"x":-25.0,"y":33.5,"k":"r"},{"x":-22.9,"y":32.9,"k":"r"},{"x":-20.7,"y":32.6,"k":"r"},{"x":-33.3,"y":34.9,"k":"r"},
{"x":0,"y":0,"k":"p"},
{"x":-3.8,"y":-0.45,"k":"b"}
    ]},
    "mark": {"type": "point", "filled": true, "opacity": 1, "strokeWidth": 0},
    "encoding": {
      "x": {"field": "x", "type": "quantitative"},
      "y": {"field": "y", "type": "quantitative"},
      "color": {"field": "k", "type": "nominal", "title": null, "scale": {"domain": ["p", "b", "r"], "range": ["#0000ff", "#e6168a", "#000000"]}, "legend": {"title": null, "labelExpr": "datum.label == 'p' ? 'particular solution' : datum.label == 'b' ? 'barycentric solution' : 'random solutions'"}},
      "shape": {"field": "k", "type": "nominal", "title": null, "scale": {"domain": ["p", "b", "r"], "range": ["square", "triangle-up", "circle"]}, "legend": {"title": null, "labelExpr": "datum.label == 'p' ? 'particular solution' : datum.label == 'b' ? 'barycentric solution' : 'random solutions'"}},
      "size": {"field": "k", "type": "nominal", "title": null, "scale": {"type": "ordinal", "domain": ["p", "b", "r"], "range": [144, 130, 16]}, "legend": {"title": null, "labelExpr": "datum.label == 'p' ? 'particular solution' : datum.label == 'b' ? 'barycentric solution' : 'random solutions'"}}
    }
  },
  {
    "data": {"values": [
      {"x": -33.85, "y": 35.48}, {"x": 34.93, "y": 25.46}, {"x": 27.8, "y": -35.54}, {"x": -43.15, "y": -26.76}
    ]},
    "mark": {"type": "circle", "color": "#ff0000", "opacity": 1, "size": 280},
    "encoding": {
      "x": {"field": "x", "type": "quantitative"},
      "y": {"field": "y", "type": "quantitative"}
    }
  }
]
}
